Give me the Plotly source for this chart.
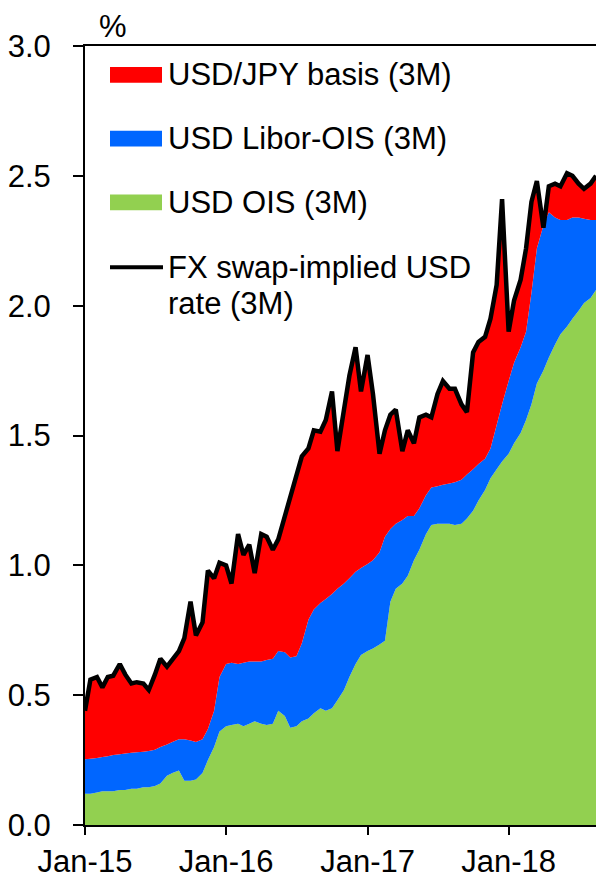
import pandas as pd
import plotly.graph_objects as go

# semi-monthly observation dates, Jan-15 .. Aug-18
dates = pd.date_range("2015-01-01", "2018-08-16", freq="SMS")

# USD OIS (3M), %
ois = [
    0.12, 0.12, 0.125, 0.13, 0.13, 0.13, 0.135, 0.135, 0.14, 0.14, 0.145, 0.145,
    0.15, 0.16, 0.19, 0.20, 0.21, 0.17, 0.17, 0.175, 0.20, 0.25, 0.30, 0.36,
    0.38, 0.385, 0.39, 0.38, 0.39, 0.40, 0.39, 0.385, 0.39, 0.44, 0.42, 0.375,
    0.38, 0.40, 0.41, 0.43, 0.45, 0.44, 0.45, 0.48, 0.52, 0.57, 0.62, 0.655,
    0.67, 0.68, 0.695, 0.71, 0.86, 0.91, 0.93, 0.96, 1.02, 1.06, 1.12, 1.155,
    1.16, 1.16, 1.16, 1.155, 1.16, 1.18, 1.21, 1.25, 1.29, 1.335, 1.37, 1.40,
    1.43, 1.47, 1.51, 1.56, 1.62, 1.70, 1.75, 1.80, 1.85, 1.89, 1.92, 1.95,
    1.98, 2.01, 2.03, 2.06,
]

# OIS + Libor-OIS level (top of blue band), %
libor = [
    0.253, 0.255, 0.258, 0.262, 0.265, 0.27, 0.272, 0.275, 0.278, 0.28, 0.282, 0.285,
    0.29, 0.30, 0.31, 0.32, 0.33, 0.33, 0.325, 0.32, 0.33, 0.37, 0.44, 0.57,
    0.62, 0.625, 0.62, 0.625, 0.63, 0.63, 0.63, 0.635, 0.64, 0.67, 0.665, 0.645,
    0.65, 0.70, 0.79, 0.83, 0.855, 0.87, 0.89, 0.91, 0.93, 0.95, 0.975, 0.99,
    1.005, 1.02, 1.05, 1.11, 1.14, 1.16, 1.175, 1.19, 1.19, 1.22, 1.27, 1.30,
    1.305, 1.31, 1.315, 1.32, 1.33, 1.35, 1.37, 1.39, 1.41, 1.45, 1.54, 1.62,
    1.71, 1.78, 1.84, 1.90, 2.05, 2.22, 2.31, 2.36, 2.34, 2.33, 2.33, 2.34,
    2.34, 2.335, 2.33, 2.33,
]

# FX swap-implied USD rate (3M), %
fx_implied = [
    0.44, 0.56, 0.57, 0.53, 0.57, 0.575, 0.62, 0.58, 0.545, 0.55, 0.545, 0.52,
    0.58, 0.64, 0.61, 0.64, 0.67, 0.72, 0.86, 0.73, 0.78, 0.98, 0.95, 1.01,
    1.00, 0.93, 1.12, 1.04, 1.08, 0.97, 1.12, 1.11, 1.06, 1.10, 1.19, 1.27,
    1.36, 1.42, 1.45, 1.52, 1.515, 1.56, 1.67, 1.44, 1.60, 1.73, 1.84, 1.67,
    1.81, 1.66, 1.43, 1.52, 1.58, 1.60, 1.44, 1.52, 1.47, 1.57, 1.58, 1.57,
    1.66, 1.71, 1.68, 1.68, 1.62, 1.59, 1.82, 1.86, 1.88, 1.95, 2.08, 2.41,
    1.90, 2.02, 2.10, 2.22, 2.40, 2.48, 2.30, 2.46, 2.47, 2.46, 2.51, 2.50,
    2.47, 2.45, 2.47, 2.50,
]

libor_ois = [b - a for a, b in zip(ois, libor)]
basis = [c - b for b, c in zip(libor, fx_implied)]

RED = "#FF0000"
BLUE = "#0066FF"
GREEN = "#92D050"
FONT = "Liberation Sans, Arial, sans-serif"
FS = 31

fig = go.Figure()
fig.add_trace(go.Scatter(x=dates, y=ois, stackgroup="s", mode="none",
                         fillcolor=GREEN, name="USD OIS (3M)"))
fig.add_trace(go.Scatter(x=dates, y=libor_ois, stackgroup="s", mode="none",
                         fillcolor=BLUE, name="USD Libor-OIS (3M)"))
fig.add_trace(go.Scatter(x=dates, y=basis, stackgroup="s", mode="none",
                         fillcolor=RED, name="USD/JPY basis (3M)"))
fig.add_trace(go.Scatter(x=dates, y=fx_implied, mode="lines",
                         line=dict(color="black", width=4.5),
                         name="FX swap-implied USD rate (3M)"))

# hand-drawn legend (pixel positions converted to paper coords)
L, R, T, B = 85, 596, 46, 828
px = lambda x: (x - L) / (R - L)
py = lambda y: (B - y) / (B - T)

shapes = []
for color, top in [(RED, 67), (BLUE, 131), (GREEN, 195)]:
    shapes.append(dict(type="rect", xref="paper", yref="paper",
                       x0=px(110), x1=px(162), y0=py(top + 16), y1=py(top),
                       fillcolor=color, line=dict(width=0)))
shapes.append(dict(type="line", xref="paper", yref="paper",
                   x0=px(110), x1=px(163), y0=py(268), y1=py(268),
                   line=dict(color="black", width=4)))

labels = [("USD/JPY basis (3M)", 75), ("USD Libor-OIS (3M)", 139),
          ("USD OIS (3M)", 203), ("FX swap-implied USD", 268), ("rate (3M)", 304)]
annotations = [dict(text=t, x=px(166), y=py(y), xref="paper", yref="paper",
                    xanchor="left", yanchor="middle", showarrow=False,
                    font=dict(size=FS, color="black", family=FONT))
               for t, y in labels]
annotations.append(dict(text="%", x=px(113), y=py(26), xref="paper", yref="paper",
                        xanchor="center", yanchor="middle", showarrow=False,
                        font=dict(size=FS, color="black", family=FONT)))

fig.update_layout(
    width=596, height=879,
    margin=dict(l=L, r=0, t=T, b=879 - B),
    paper_bgcolor="white", plot_bgcolor="white",
    showlegend=False,
    font=dict(family=FONT, size=FS, color="black"),
    shapes=shapes, annotations=annotations,
    xaxis=dict(range=["2015-01-01", "2018-08-15"], tick0="2015-01-01", dtick="M12",
               tickformat="%b-%y", ticks="outside", ticklen=8, tickwidth=2,
               tickcolor="black", showline=True, linewidth=2, linecolor="black",
               mirror=True, showgrid=False, zeroline=False),
    yaxis=dict(range=[0, 3.0], dtick=0.5, tickformat=".1f", ticks="outside",
               ticklen=10, tickwidth=2, tickcolor="black", showline=True,
               linewidth=2, linecolor="black", showgrid=False, zeroline=False,
               ticklabelstandoff=16),
)

fig.write_html("out.html", config={"displayModeBar": False},
               post_script="document.body.style.margin='0';")
